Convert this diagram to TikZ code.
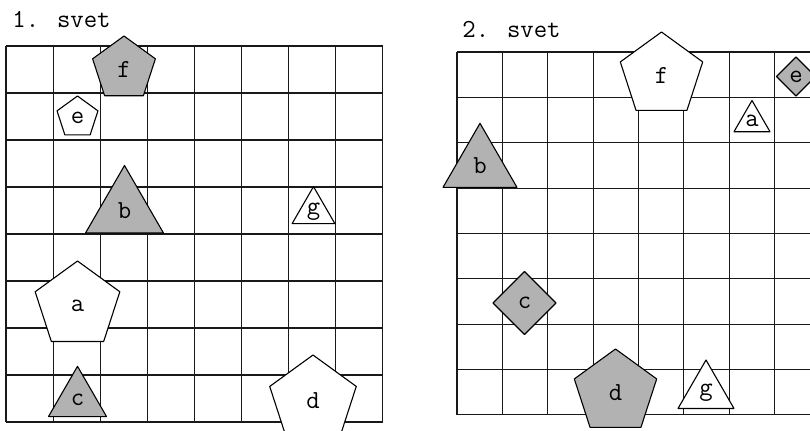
\documentclass[tikz,border=0pt]{standalone}
\usetikzlibrary{shapes.geometric}
\begin{document}
\begin{tikzpicture}[x=0.5pt, y=-0.5pt, line join=round,
    font=\ttfamily\fontsize{13}{15}\selectfont]

  \tikzset{
    gridline/.style={black!90, line width=0.55pt},
    shp/.style={draw=black, line width=0.55pt, inner sep=0pt, outer sep=0pt},
    pent/.style={shp, regular polygon, regular polygon sides=5},
    tri/.style={shp, regular polygon, regular polygon sides=3},
    romb/.style={shp, diamond, aspect=1},
    dark/.style={fill=gray!60},
    light/.style={fill=white}
  }

  \clip (0,0) rectangle (810,430);

  % ----------------------------------------------------
  % 1. svet
  % ----------------------------------------------------
  \node[anchor=base west, inner sep=0pt] (naslov1) at (12,27) {1. svet};

  % mreza 8x8
  \begin{scope}[shift={(6,46)}, x=23.55pt, y=-23.5pt]
    \foreach \i in {0,...,8} {
      \draw[gridline] (\i,0) -- (\i,8);
      \draw[gridline] (0,\i) -- (8,\i);
    }
  \end{scope}

  % liki na prvem svetu
  \node[pent, dark,  minimum size=33pt]   (f1) at (124,69)      {f};
  \node[pent, light, minimum size=21.5pt] (e1) at (77.5,117.5)  {e};
  \node[tri,  dark,  minimum size=45pt]   (b1) at (124.5,210.5) {b};
  \node[tri,  light, minimum size=21.4pt] (g1) at (313.5,211.3) {g};
  \node[pent, light, minimum size=44.5pt] (a1) at (77.5,305.5)  {a};
  \node[tri,  dark,  minimum size=33.5pt] (c1) at (77.5,399.8)  {c};
  \node[pent, light, minimum size=45.5pt] (d1) at (313,400.5)   {d};

  % ----------------------------------------------------
  % 2. svet
  % ----------------------------------------------------
  \node[anchor=base west, inner sep=0pt] (naslov2) at (462,37) {2. svet};

  % mreza 8x8 (desni rob je odrezan)
  \begin{scope}[shift={(457,52)}, x=22.675pt, y=-22.675pt]
    \foreach \i in {0,...,8} {
      \draw[gridline] (\i,0) -- (\i,8);
      \draw[gridline] (0,\i) -- (8,\i);
    }
  \end{scope}

  % liki na drugem svetu
  \node[pent, light, minimum size=43.3pt] (f2) at (661.5,75.3)  {f};
  \node[romb, dark,  minimum size=19.5pt] (e2) at (796,76.5)    {e};
  \node[tri,  light, minimum size=20.8pt] (a2) at (752,121.3)   {a};
  \node[tri,  dark,  minimum size=42.7pt] (b2) at (480,166)     {b};
  \node[romb, dark,  minimum size=31.5pt] (c2) at (524.5,303)   {c};
  \node[pent, dark,  minimum size=43.3pt] (d2) at (615.5,392.3) {d};
  \node[tri,  light, minimum size=32.3pt] (g2) at (706,392.3)   {g};

\end{tikzpicture}
\end{document}
